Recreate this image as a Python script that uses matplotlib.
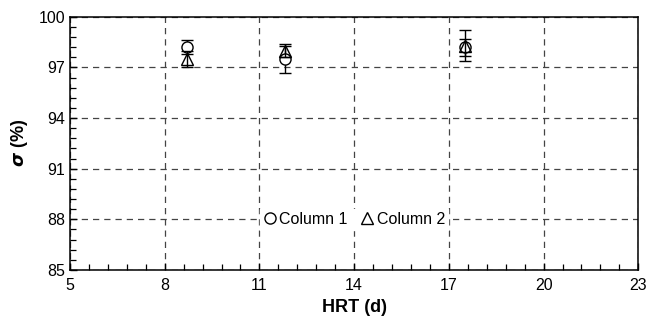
import matplotlib
matplotlib.use("Agg")
import matplotlib.pyplot as plt
from matplotlib.ticker import MultipleLocator, AutoMinorLocator

plt.rcParams['font.family'] = ['Liberation Sans', 'DejaVu Sans']

hrt = [8.7, 11.8, 17.5]
col1 = [98.2, 97.5, 98.2]
col1_err = [0.4, 0.8, 0.5]
col2 = [97.5, 98.0, 98.3]
col2_err = [0.5, 0.4, 0.9]

xticks = [5, 8, 11, 14, 17, 20, 23]
yticks = [85, 88, 91, 94, 97, 100]

fig = plt.figure(figsize=(6.48, 3.24), dpi=100)
ax = fig.add_axes([0.108, 0.167, 0.877, 0.781])

ax.set_xlim(5, 23)
ax.set_ylim(85, 100)
ax.set_xticks(xticks)
ax.set_yticks(yticks)
ax.xaxis.set_minor_locator(AutoMinorLocator(5))
ax.yaxis.set_minor_locator(AutoMinorLocator(5))
ax.tick_params(which='both', direction='in', top=False, right=False,
               labelsize=11.5, color='black')
ax.tick_params(which='major', length=5, width=1)
ax.tick_params(which='minor', length=4, width=0.9)
ax.tick_params(axis='x', pad=6)

ax.grid(True, which='major', linestyle=(0, (5, 4)), color='#444444', linewidth=0.9)
ax.set_axisbelow(True)
for s in ax.spines.values():
    s.set_linewidth(1.1)
    s.set_zorder(5)

ax.errorbar(hrt, col1, yerr=col1_err, fmt='o', ms=8, mfc='white', mec='black',
            mew=1.0, ecolor='black', elinewidth=1.0, capsize=4.5, capthick=1.0,
            label='Column 1', zorder=3)
ax.errorbar(hrt, col2, yerr=col2_err, fmt='^', ms=8, mfc='none', mec='black',
            mew=1.0, ecolor='black', elinewidth=1.0, capsize=4.5, capthick=1.0,
            label='Column 2', zorder=4)

handles, labels = ax.get_legend_handles_labels()
handles = [h[0] for h in handles]
leg = ax.legend(handles, labels, loc='center', bbox_to_anchor=(0.5, 0.2),
                ncol=2, frameon=True, fontsize=11.5, handlelength=0.8,
                handletextpad=0.2, columnspacing=0.8, borderpad=0.2,
                fancybox=False)
leg.get_frame().set_edgecolor('white')
leg.get_frame().set_facecolor('white')
leg.get_frame().set_alpha(1.0)

ax.set_xlabel('HRT (d)', fontsize=13, fontweight='bold', labelpad=4)
ax.set_ylabel(r'$\boldsymbol{\sigma}$ (%)', fontsize=13, fontweight='bold', labelpad=6)

fig.savefig('out.png', dpi=100)
